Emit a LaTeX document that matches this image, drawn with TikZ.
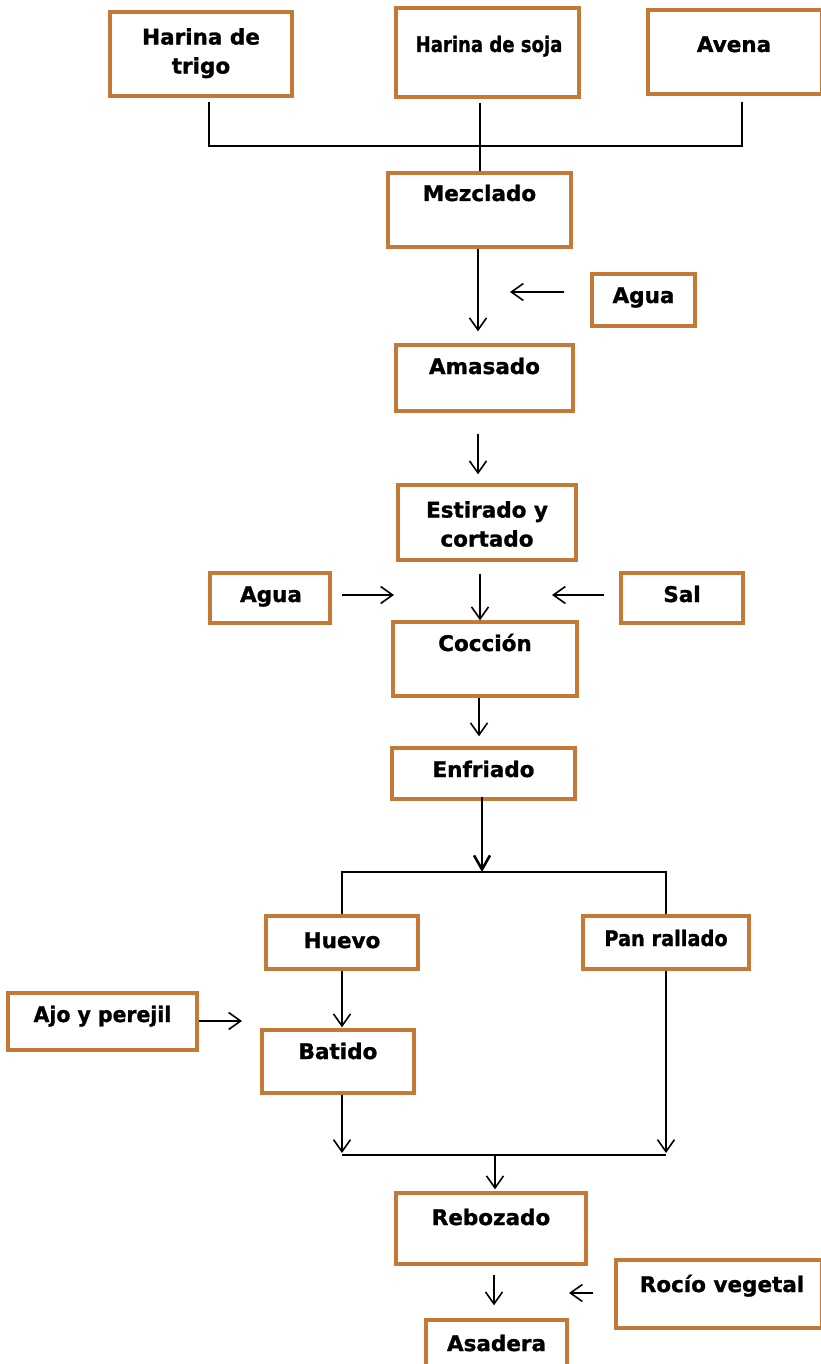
\documentclass[tikz,border=0pt]{standalone}
\usepackage{fontspec}
\usepackage{graphicx}
\setmainfont{DejaVu Sans}[BoldFeatures={FakeBold=1.2}]
\usetikzlibrary{arrows.meta,calc}
\definecolor{boxc}{HTML}{C47A36}
\begin{document}
\begin{tikzpicture}[x=1pt,y=-1pt,
  box/.style={draw=boxc, line width=3.4pt, inner sep=0pt, fill=none},
  lbl/.style={font=\bfseries\fontsize{21.5}{29}\selectfont, anchor=base, inner sep=0pt, align=center},
  lbltop/.style={lbl, anchor=north},
  ln/.style={line width=1.7pt, black},
  arr/.style={ln, -{Straight Barb[length=12pt,width=17pt,line width=1.6pt]}},
  tarr/.style={line width=2.6pt, black, -{Straight Barb[length=14pt,width=16pt,line width=2.6pt]}}]
\useasboundingbox (0,0) rectangle (820,1364);
\fill[white] (0,0) rectangle (820,1364);

% boxes
\node[box, minimum width=182pt, minimum height=84pt] (trigo) at (201,54) {};
\node[box, minimum width=183pt, minimum height=89pt] (soja) at (487.5,52.5) {};
\node[box, minimum width=174pt, minimum height=84pt] (avena) at (735,52) {};
\node[box, minimum width=183pt, minimum height=74pt] (mez) at (479.5,210) {};
\node[box, minimum width=103pt, minimum height=52pt] (agua1) at (643.5,300) {};
\node[box, minimum width=177pt, minimum height=66pt] (amas) at (484.5,378) {};
\node[box, minimum width=178pt, minimum height=75pt] (est) at (487,522.5) {};
\node[box, minimum width=120pt, minimum height=50pt] (agua2) at (270,598) {};
\node[box, minimum width=122pt, minimum height=50pt] (sal) at (682,598) {};
\node[box, minimum width=184pt, minimum height=74pt] (coc) at (485,659) {};
\node[box, minimum width=183pt, minimum height=51pt] (enf) at (483.5,773.5) {};
\node[box, minimum width=152pt, minimum height=53pt] (huevo) at (342,942.5) {};
\node[box, minimum width=166pt, minimum height=53pt] (pan) at (666,942.5) {};
\node[box, minimum width=189pt, minimum height=57pt] (ajo) at (102.5,1021.5) {};
\node[box, minimum width=152pt, minimum height=63pt] (bat) at (338,1061.5) {};
\node[box, minimum width=190pt, minimum height=71pt] (reb) at (491,1228.5) {};
\node[box, minimum width=206pt, minimum height=68pt] (rocio) at (719,1294) {};
\node[box, minimum width=141pt, minimum height=50pt] (asad) at (496.5,1345) {};

% labels
\node[lbltop] (trigoT) at (201,28) {Harina de\\trigo};
\node[lbl] (sojaT) at (489,52) {\scalebox{0.84}[1]{Harina de soja}};
\node[lbl] (avenaT) at (734,52) {Avena};
\node[lbl] (mezT) at (479.5,201) {Mezclado};
\node[lbl] (agua1T) at (643.5,303) {Agua};
\node[lbl] (amasT) at (484.5,374) {Amasado};
\node[lbltop] (estT) at (487,501) {Estirado y\\cortado};
\node[lbl] (agua2T) at (271,602) {Agua};
\node[lbl] (salT) at (682,602) {Sal};
\node[lbl] (cocT) at (485,651) {Cocción};
\node[lbl] (enfT) at (483.5,777) {Enfriado};
\node[lbl] (huevoT) at (342,948) {Huevo};
\node[lbl] (panT) at (666,946) {\scalebox{0.9}[1]{Pan rallado}};
\node[lbl] (ajoT) at (102.5,1022) {\scalebox{0.95}[1]{Ajo y perejil}};
\node[lbl] (batT) at (338,1059) {Batido};
\node[lbl] (rebT) at (491,1225) {Rebozado};
\node[lbl] (rocioT) at (722,1292) {Rocío vegetal};
\node[lbl] (asadT) at (496.5,1351) {Asadera};

% top junction
\coordinate (j1) at (480,146);
\draw[ln, shorten <=4pt] ([xshift=8pt]trigo.south) |- (j1);
\draw[ln, shorten >=6pt] (j1) -| ([xshift=7pt]avena.south);
\draw[ln, shorten <=4pt] (soja.south -| j1) -- (mez.north -| j1);

% main column
\draw[arr, shorten >=12pt] (mez.south -| 478,0) -- (amas.north -| 478,0);
\coordinate (a1) at (510,292);
\draw[arr, shorten <=26pt] (agua1.west |- a1) -- (a1);
\draw[arr, shorten <=21pt, shorten >=9pt] (amas.south -| 478,0) -- (est.north -| 478,0);
\draw[arr, shorten <=12pt] (est.south -| 480,0) -- (coc.north -| 480,0);
\coordinate (a2) at (394,595);
\draw[arr, shorten <=10pt] (agua2.east |- a2) -- (a2);
\coordinate (s1) at (552,595);
\draw[arr, shorten <=15pt] (sal.west |- s1) -- (s1);
\draw[arr, shorten >=10pt] (coc.south -| 479,0) -- (enf.north -| 479,0);

% split
\coordinate (sp) at (482,872);
\draw[tarr, shorten <=-4pt] (enf.south -| sp) -- (sp);
\draw[ln] (huevo.north) -- (huevo.north |- sp) -- (pan.north |- sp) -- (pan.north);

% huevo / batido
\draw[arr, shorten >=1pt] (huevo.south) -- (bat.north -| huevo.south);
\coordinate (aj) at (242,1021);
\draw[arr] (ajo.east |- aj) -- (aj);

% merge
\coordinate (m2) at (495,1155);
\draw[arr, shorten >=2pt] (bat.south -| huevo.south) -- (huevo.south |- m2);
\draw[arr, shorten >=2pt] (pan.south) -- (pan.south |- m2);
\draw[ln] (huevo.south |- m2) -- (pan.south |- m2);
\draw[arr, shorten >=2pt] (m2) -- (m2 |- reb.north);

% rebozado / asadera
\draw[arr, shorten <=9pt, shorten >=13pt] ([xshift=3pt]reb.south) -- ([xshift=3pt]reb.south |- asad.north);
\coordinate (rv) at (569,1293);
\draw[arr, shorten <=21pt] (rocio.west |- rv) -- (rv);
\end{tikzpicture}
\end{document}
